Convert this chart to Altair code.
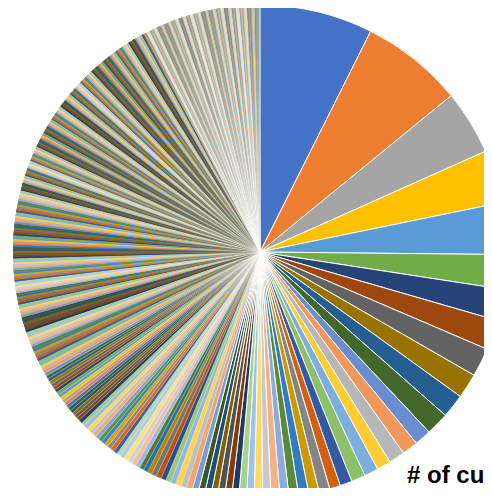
import colorsys
import altair as alt
import pandas as pd

# Number of customers per slice, read clockwise from 12 o'clock (descending)
values_large = [177, 160, 101, 83, 81, 54, 49, 47, 45, 39, 37, 36,
                26, 25, 25, 22, 22, 22, 19, 17, 17, 16, 16, 15]
values_mid = [14, 14, 13, 13, 12, 12, 11, 11, 11, 10, 10, 10, 10, 9, 9, 9,
              8, 8, 8, 8, 8, 7, 7, 7, 7, 7, 7, 7, 7,
              6, 6, 6, 6, 6, 6, 6, 6, 6, 6, 6, 6, 6, 6, 5, 5, 5, 5]
values_small = [
    5, 5, 5, 5, 5, 5, 5, 5, 5, 5, 5, 5, 5, 5, 5,
    4, 4, 4, 4, 4, 4, 4, 4, 4, 4, 4, 4,
    4, 4, 4, 4, 4, 4, 4, 4, 4, 4, 4, 4,
    3, 3, 3, 3, 3, 3, 3, 3, 3, 3, 3, 3, 3, 3, 3, 3, 3, 3, 3, 3,
    3, 3, 3, 3, 3, 3, 3, 3, 3, 3, 3, 3, 3, 3, 3, 3, 3, 3, 3, 3,
    3, 3, 3, 3, 3, 3, 3, 3, 3, 3, 3, 3, 3, 3, 3, 3, 3, 3, 3, 3,
    3, 3,
]
values_tiny = [
    2, 2, 2, 2, 2, 2, 2, 2, 2, 2, 2, 2, 2, 2, 2, 2, 2, 2, 2, 2,
    2, 2, 2, 2, 2, 2, 2, 2, 2, 2, 2, 2, 2, 2, 2, 2, 2, 2, 2, 2,
    2, 2, 2, 2, 2, 2, 2, 2, 2, 2, 2, 2, 2, 2, 2, 2, 2, 2, 2, 2,
    2, 2, 2, 2, 2, 2, 2, 2, 2, 2, 2, 2, 2, 2, 2, 2, 2, 2, 2, 2,
    2, 2, 2, 2, 2, 2, 2, 2, 2, 2, 2, 2, 2, 2, 2, 2, 2, 2, 2, 2,
    2, 2, 2, 2, 2, 2, 2, 2, 2, 2, 2, 2, 2, 2, 2, 2, 2, 2, 2, 2,
    2, 2, 2, 2, 2, 2, 2, 2, 2, 2, 2, 2, 2, 2, 2, 2, 2, 2, 2, 2,
    2, 2, 2, 2, 2, 2, 2, 2, 2, 2, 2, 2, 2, 2, 2, 2, 2, 2, 2, 2,
    1, 1, 1, 1, 1, 1, 1, 1, 1, 1, 1, 1, 1, 1, 1, 1, 1, 1, 1, 1,
    1, 1, 1, 1, 1, 1, 1, 1, 1, 1, 1, 1, 1, 1, 1, 1, 1, 1, 1, 1,
    1, 1, 1, 1, 1, 1, 1, 1, 1, 1, 1, 1, 1, 1, 1, 1, 1, 1, 1, 1,
    1, 1, 1, 1, 1, 1, 1, 1, 1, 1, 1, 1, 1, 1, 1, 1, 1, 1, 1, 1,
    1, 1, 1, 1, 1, 1, 1, 1, 1, 1, 1, 1, 1, 1, 1, 1, 1, 1, 1, 1,
    1, 1, 1, 1, 1, 1, 1, 1, 1, 1, 1, 1, 1, 1, 1, 1, 1, 1, 1, 1,
    1, 1, 1, 1, 1, 1, 1, 1, 1, 1, 1, 1, 1, 1, 1, 1, 1, 1, 1, 1,
    1, 1, 1, 1, 1, 1, 1, 1, 1, 1, 1, 1, 1, 1, 1, 1, 1, 1, 1, 1,
    1, 1, 1, 1, 1, 1, 1, 1, 1, 1, 1, 1, 1, 1, 1, 1, 1, 1, 1, 1,
    1, 1, 1, 1, 1, 1,
]
title_text = "# of customers"

# Office theme accent colours and Excel's shade/tint variations
accents = ["#4472C4", "#ED7D31", "#A5A5A5", "#FFC000", "#5B9BD5", "#70AD47"]
variations = [(1.0, 0.0), (0.6, 0.0), (0.8, 0.2), (0.8, 0.0), (0.6, 0.4),
              (0.5, 0.0), (0.7, 0.3), (0.7, 0.0), (0.5, 0.5), (0.85, 0.0),
              (0.65, 0.35), (0.55, 0.0)]


def vary(hexc, mod, off):
    r, g, b = (int(hexc[i:i + 2], 16) / 255 for i in (1, 3, 5))
    h, l, s = colorsys.rgb_to_hls(r, g, b)
    l = min(1.0, l * mod + off)
    r, g, b = colorsys.hls_to_rgb(h, l, s)
    return "#%02x%02x%02x" % (round(r * 255), round(g * 255), round(b * 255))


palette = [vary(a, m, o) for (m, o) in variations for a in accents]

values = values_large + values_mid + values_small + values_tiny
df = pd.DataFrame({
    "idx": list(range(len(values))),
    "customers": values,
    "color": [palette[i % len(palette)] for i in range(len(values))],
})

base = alt.Chart(df).encode(
    theta=alt.Theta("customers:Q", stack=True),
    order=alt.Order("idx:Q"),
    color=alt.Color("color:N", scale=None),
    x=alt.value(252),
    y=alt.value(244),
)

# same slices drawn beneath without borders so anti-aliasing seams keep the slice colours
under = base.mark_arc(radius=247, strokeWidth=0)

stroke_w = (
    alt.when(alt.datum.customers >= 10).then(alt.value(1.0))
    .when(alt.datum.customers >= 5).then(alt.value(0.3))
    .when(alt.datum.customers >= 2).then(alt.value(0.05))
    .otherwise(alt.value(0.2))
)
pie = base.mark_arc(radius=247, stroke="white").encode(strokeWidth=stroke_w)

label = alt.Chart(pd.DataFrame({"t": [title_text]})).mark_text(
    align="left", baseline="alphabetic", font="Liberation Sans",
    fontWeight="bold", fontSize=24, color="#000000"
).encode(text="t:N", x=alt.value(399), y=alt.value(475))

chart = alt.layer(under, under, pie, label).properties(
    width=476, height=480,
    autosize=alt.AutoSizeParams(type="none"),
    padding=0,
).configure_view(strokeWidth=0)

chart.save("out.html", embed_options={"renderer": "svg", "actions": False})
